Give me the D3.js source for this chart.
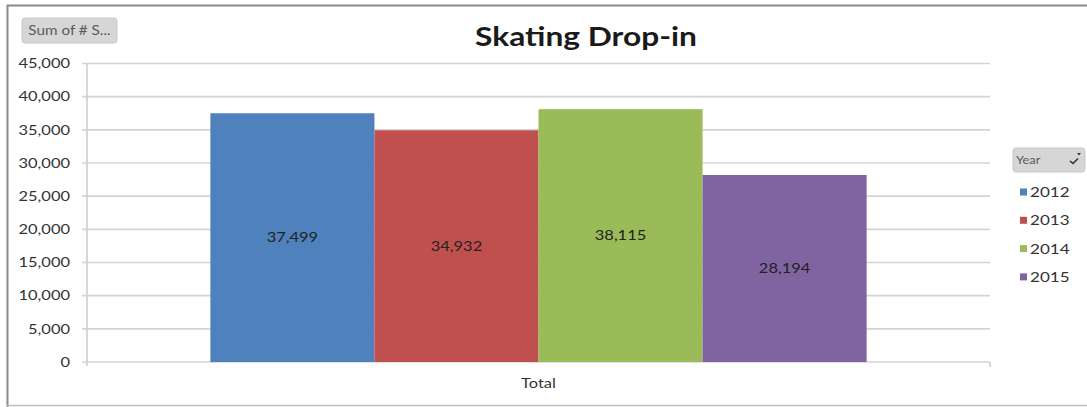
<!DOCTYPE html>
<html>
<head>
<meta charset="utf-8">
<script src="https://cdn.jsdelivr.net/npm/d3@7"></script>
<style>
  html, body { margin: 0; padding: 0; background: #fff; }
  svg { display: block; font-family: Lato, "Open Sans", sans-serif; }
</style>
</head>
<body>
<svg id="chart" width="1087" height="407"></svg>
<script>
// Pivot chart data: skating drop-in counts by year
const categories = ["Total"];
const years = ["2012", "2013", "2014", "2015"];
const values = [37499, 34932, 38115, 28194];
const colors = ["#4F81BD", "#C0504D", "#9BBB59", "#8064A2"];
const yTicks = [0, 5000, 10000, 15000, 20000, 25000, 30000, 35000, 40000, 45000];

const svg = d3.select("#chart");
const W = 1087, H = 407;
const plot = { left: 87, right: 990, top: 63.5, bottom: 362 };
const SX = 1.22; // horizontal text stretch

// text placed at (x, y), stretched horizontally about its anchor
function label(parent, x, y, str, size, opts = {}) {
  return parent.append("text")
    .attr("transform", `translate(${x},${y}) scale(${SX},1)`)
    .attr("dy", opts.dy ?? "0.35em")
    .attr("text-anchor", opts.anchor || "start")
    .attr("font-size", size)
    .attr("font-weight", opts.weight || "normal")
    .attr("fill", opts.fill || "#333")
    .text(str);
}

// chart frame
svg.append("path")
  .attr("d", `M7.5,${H} L7.5,5.5 L${W},5.5`)
  .attr("fill", "none").attr("stroke", "#8a8a8a").attr("stroke-width", 2);
svg.append("line")
  .attr("x1", 7).attr("x2", W).attr("y1", 405.5).attr("y2", 405.5)
  .attr("stroke", "#bdbdbd").attr("stroke-width", 1.5);

const y = d3.scaleLinear().domain([0, 45000]).range([plot.bottom, plot.top]);
const x0 = d3.scaleBand().domain(categories).range([plot.left, plot.right]).paddingInner(0).paddingOuter(0.188);
const x1 = d3.scaleBand().domain(years).range([0, x0.bandwidth()]).padding(0);

// gridlines with short ticks left of the axis
const fmt = d3.format(",");
svg.append("g").selectAll("line").data(yTicks).join("line")
  .attr("x1", plot.left - 5).attr("x2", plot.right)
  .attr("y1", d => y(d)).attr("y2", d => y(d))
  .attr("stroke", "#d4d4d4").attr("stroke-width", 1.6);

// y axis labels
const yAxis = svg.append("g")
  .attr("transform", `translate(${plot.left - 17},0)`)
  .call(d3.axisLeft(y).tickValues(yTicks).tickFormat(fmt).tickSize(0).tickPadding(0));
yAxis.select(".domain").remove();
yAxis.selectAll("text")
  .attr("transform", `scale(${SX},1)`)
  .attr("font-family", "Lato, 'Open Sans', sans-serif")
  .attr("font-size", 13.5).attr("fill", "#333");

// value axis line and category axis end tick
svg.append("line")
  .attr("x1", plot.left).attr("x2", plot.left)
  .attr("y1", plot.top).attr("y2", plot.bottom + 4)
  .attr("stroke", "#cfcfcf").attr("stroke-width", 1.6);
svg.append("line")
  .attr("x1", plot.right).attr("x2", plot.right)
  .attr("y1", plot.bottom).attr("y2", plot.bottom + 5)
  .attr("stroke", "#cfcfcf").attr("stroke-width", 1.6);

// bars
const g = svg.append("g");
categories.forEach(cat => {
  const rows = years.map((yr, i) => ({ yr, v: values[i], c: colors[i] }));
  g.selectAll("rect.bar").data(rows)
    .join("rect").attr("class", "bar")
    .attr("x", d => x0(cat) + x1(d.yr))
    .attr("width", x1.bandwidth())
    .attr("y", d => y(d.v))
    .attr("height", d => y(0) - y(d.v))
    .attr("fill", d => d.c);
  rows.forEach(d => {
    label(g, x0(cat) + x1(d.yr) + x1.bandwidth() / 2, (y(d.v) + y(0)) / 2,
      fmt(d.v), 13.5, { anchor: "middle", fill: "#222" });
  });
  // category label
  label(svg, x0(cat) + x0.bandwidth() / 2, 383, cat, 13.5, { anchor: "middle" });
});

// title
label(svg, 586, 46, "Skating Drop-in", 26, { anchor: "middle", weight: "bold", fill: "#1a1a1a", dy: 0 });

// value field button
svg.append("rect").attr("x", 22).attr("y", 18).attr("width", 95).attr("height", 25)
  .attr("rx", 3).attr("fill", "#d6d6d6").attr("stroke", "#c8c8c8");
label(svg, 69.5, 30.5, "Sum of # S...", 12.5, { anchor: "middle", fill: "#5a5a5a" });

// legend
const lg = svg.append("g");
lg.append("rect").attr("x", 1013).attr("y", 148).attr("width", 72).attr("height", 24)
  .attr("rx", 3).attr("fill", "#d6d6d6").attr("stroke", "#c8c8c8");
label(lg, 1016, 160, "Year", 10.5, { fill: "#5a5a5a" });
// filter icon
lg.append("path").attr("d", "M1070,161 l3,2.5 l5,-5").attr("fill", "none")
  .attr("stroke", "#333").attr("stroke-width", 1.6);
lg.append("path").attr("d", "M1077,153 l4,0 l-2,2.5 z").attr("fill", "#333");

years.forEach((yr, i) => {
  const cy = 192 + i * 28.3;
  lg.append("rect").attr("x", 1020).attr("y", cy - 3.5).attr("width", 7).attr("height", 7)
    .attr("fill", colors[i]);
  label(lg, 1030, cy, yr, 14);
});
</script>
</body>
</html>
